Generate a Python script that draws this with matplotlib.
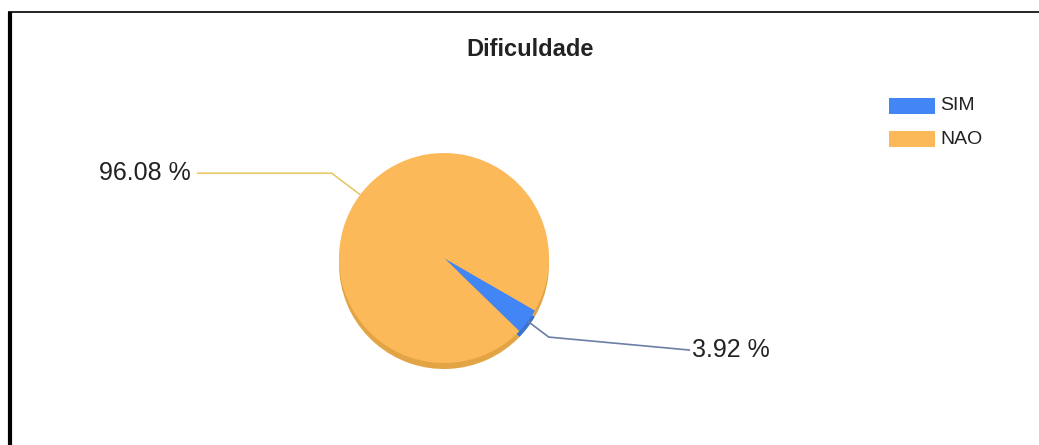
import numpy as np
import matplotlib
matplotlib.use("Agg")
import matplotlib.pyplot as plt
from matplotlib.patches import Rectangle

W, H = 1039, 445

# data
labels = ["SIM", "NAO"]
values = [3.92, 96.08]
colors = ["#4285f4", "#fcb95a"]
side_colors = ["#3a73d0", "#e3a445"]
line_colors = ["#6a7fa6", "#e9c866"]
title = "Dificuldade"

plt.rcParams['font.family'] = ['Liberation Sans', 'DejaVu Sans']

fig = plt.figure(figsize=(W / 100, H / 100), dpi=100)
ax = fig.add_axes([0, 0, 1, 1])

cx, cy, r = 444, H - 258, 105
start = -30

# 3d side of the pie, slightly below
ax.pie(values, colors=side_colors, startangle=start, counterclock=False,
       center=(cx, cy - 6), radius=r, frame=True,
       wedgeprops=dict(linewidth=0))
wedges, _ = ax.pie(values, colors=colors, startangle=start, counterclock=False,
                   center=(cx, cy), radius=r, frame=True,
                   wedgeprops=dict(linewidth=0))
ax.set_xlim(0, W)
ax.set_ylim(0, H)
ax.set_aspect('equal')
ax.axis('off')

# label lines from wedge middles
label_x = [690, 197]
elbow_r = [1.25, 1.34]
for i, w in enumerate(wedges):
    ang = np.deg2rad((w.theta1 + w.theta2) / 2)
    x0, y0 = cx + r * np.cos(ang), cy + r * np.sin(ang)
    x1, y1 = cx + elbow_r[i] * r * np.cos(ang), cy + elbow_r[i] * r * np.sin(ang)
    if np.cos(ang) > 0:
        x2, y2 = label_x[i], y1 - 13
        ha = 'left'
    else:
        x2, y2 = label_x[i], y1
        ha = 'right'
    ax.plot([x0, x1, x2], [y0, y1, y2], color=line_colors[i], lw=1.2, solid_capstyle='butt')
    ax.text(x2 + (2 if ha == 'left' else -6), y2, f"{values[i]:.2f} %", ha=ha, va='center',
            fontsize=18, color='#222222')

# legend
for i, lab in enumerate(labels):
    ly = H - 106 - i * 33
    ax.add_patch(Rectangle((889, ly - 8), 46, 16, color=colors[i], lw=0))
    ax.text(940, ly, lab, ha='left', va='center', fontsize=14, color='#222222')

ax.text(530, H - 49, title, ha='center', va='center', fontsize=17,
        fontweight='bold', color='#222222')

# frame lines of the screenshot
ax.plot([9.5, 9.5], [0, H - 12], color='black', lw=3, solid_capstyle='butt')
ax.plot([8, W], [H - 11.5, H - 11.5], color='black', lw=1.2, solid_capstyle='butt')

fig.savefig("out.png", dpi=100, facecolor='white')
